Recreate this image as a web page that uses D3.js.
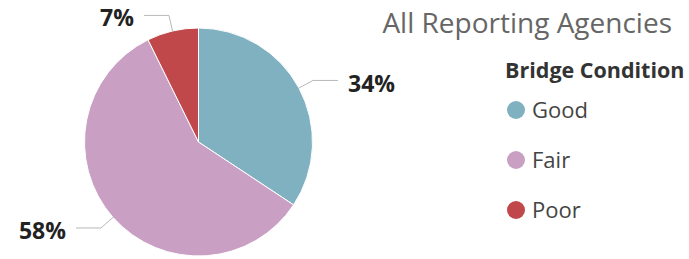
<!DOCTYPE html>
<html>
<head>
<meta charset="utf-8">
<script src="https://cdn.jsdelivr.net/npm/d3@7"></script>
<style>
  body { margin: 0; background: #fff; }
  text { font-family: "Open Sans", "Noto Sans", sans-serif; }
</style>
</head>
<body>
<svg class="bridges" width="689" height="259"></svg>
<script>
/* data */
var conditions = ["Good", "Fair", "Poor"];
var shares = [34.3, 58.4, 7.3];
var shareLabels = ["34%", "58%", "7%"];
var colours = ["#80b1c1", "#c9a0c3", "#c0474a"];

var svg = d3.select(".bridges"),
    cx = 198.5, cy = 142,
    radius = 114;

var color = d3.scaleOrdinal().domain(conditions).range(colours);

var data = conditions.map(function(c, i) { return {name: c, value: shares[i], label: shareLabels[i]}; });

var pie = d3.pie().sort(null).value(function(d) { return d.value; });
var arc = d3.arc().innerRadius(0).outerRadius(radius);
var elbowArc = d3.arc().innerRadius(radius + 16).outerRadius(radius + 16);
var edgeArc = d3.arc().innerRadius(radius - 1).outerRadius(radius - 1);

var g = svg.append("g").attr("transform", "translate(" + cx + "," + cy + ")");

var slices = pie(data);

g.selectAll(".slice")
  .data(slices)
  .enter().append("path")
    .attr("class", "slice")
    .attr("d", arc)
    .attr("fill", function(d) { return color(d.data.name); })
    .attr("stroke", "#fff")
    .attr("stroke-width", 1);

/* leader lines: radial bit then horizontal */
function side(d) {
  var mid = (d.startAngle + d.endAngle) / 2;
  return Math.sin(mid) >= 0 ? 1 : -1;
}

g.selectAll(".leader")
  .data(slices)
  .enter().append("polyline")
    .attr("class", "leader")
    .attr("fill", "none")
    .attr("stroke", "#b8b8b8")
    .attr("stroke-width", 1)
    .attr("points", function(d) {
      var a = edgeArc.centroid(d), b = elbowArc.centroid(d);
      var c = [b[0] + side(d) * 25, b[1]];
      return [a, b, c].join(" ");
    });

g.selectAll(".pct")
  .data(slices)
  .enter().append("text")
    .attr("class", "pct")
    .attr("x", function(d) { return elbowArc.centroid(d)[0] + side(d) * 35; })
    .attr("y", function(d) { return elbowArc.centroid(d)[1] + 3; })
    .attr("dy", "0.35em")
    .attr("text-anchor", function(d) { return side(d) > 0 ? "start" : "end"; })
    .attr("font-size", 23)
    .attr("font-weight", "bold")
    .attr("fill", "#222")
    .text(function(d) { return d.data.label; });

/* title */
svg.append("text")
    .attr("x", 672)
    .attr("y", 33)
    .attr("text-anchor", "end")
    .attr("font-size", 28)
    .attr("fill", "#666")
    .text("All Reporting Agencies");

/* legend */
var legend = svg.append("g").attr("transform", "translate(505,0)");

legend.append("text")
    .attr("x", 0)
    .attr("y", 78)
    .attr("font-size", 21.5)
    .attr("font-weight", "bold")
    .attr("fill", "#333")
    .text("Bridge Condition");

var legendY = d3.scalePoint().domain(conditions).range([110, 210]);

var item = legend.selectAll(".item")
  .data(conditions)
  .enter().append("g")
    .attr("class", "item")
    .attr("transform", function(d) { return "translate(0," + legendY(d) + ")"; });

item.append("circle")
    .attr("cx", 11)
    .attr("cy", 0)
    .attr("r", 9)
    .attr("fill", function(d) { return color(d); });

item.append("text")
    .attr("x", 27)
    .attr("y", 0)
    .attr("dy", "0.35em")
    .attr("font-size", 22)
    .attr("fill", "#444")
    .text(function(d) { return d; });
</script>
</body>
</html>
